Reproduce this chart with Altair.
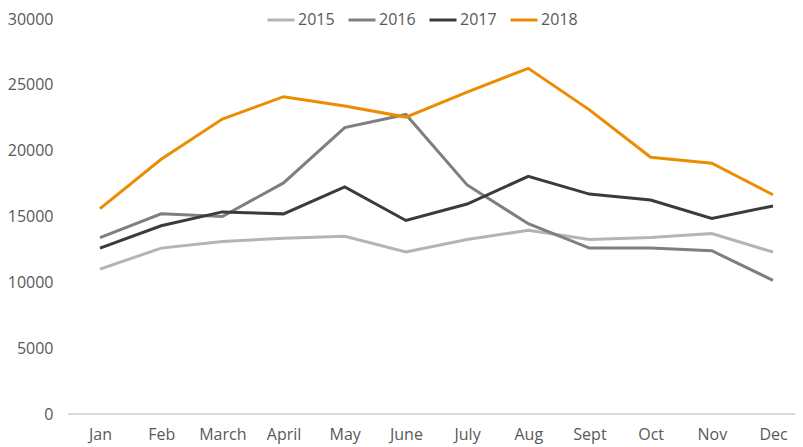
import altair as alt
import pandas as pd

months = ["Jan", "Feb", "March", "April", "May", "June", "July", "Aug", "Sept", "Oct", "Nov", "Dec"]
years = ["2015", "2016", "2017", "2018"]
v2015 = [11000, 12600, 13100, 13350, 13500, 12300, 13250, 13950, 13250, 13400, 13700, 12300]
v2016 = [13400, 15200, 15000, 17550, 21750, 22750, 17400, 14450, 12600, 12600, 12400, 10150]
v2017 = [12600, 14300, 15350, 15200, 17250, 14700, 15950, 18050, 16700, 16250, 14850, 15800]
v2018 = [15600, 19350, 22400, 24100, 23400, 22550, 24450, 26250, 23100, 19500, 19050, 16650]
colors = ["#b4b4b4", "#7f7f7f", "#3b3b3b", "#ec8c00"]

rows = []
for y, vals in zip(years, [v2015, v2016, v2017, v2018]):
    for m, v in zip(months, vals):
        rows.append({"Month": m, "Year": y, "Value": v})
df = pd.DataFrame(rows)

W, H = 727, 395
font = "Open Sans"

baseline = alt.Chart(df).mark_rule(color="#d9d9d9", strokeWidth=1.5).encode(
    x=alt.value(0), x2=alt.value(W), y=alt.value(H)
)

lines = alt.Chart(df).mark_line(strokeWidth=3).encode(
    x=alt.X("Month:N", sort=months, scale=alt.Scale(type="point", range=[32, 705], padding=0),
            axis=alt.Axis(title=None, labelAngle=0, ticks=False, domain=False,
                          labelPadding=12, labelFontSize=16,
                          labelColor="#595959", labelFont=font, grid=False)),
    y=alt.Y("Value:Q", scale=alt.Scale(domain=[0, 30000]),
            axis=alt.Axis(title=None, values=[0, 5000, 10000, 15000, 20000, 25000, 30000],
                          format="d", ticks=False, domain=False, grid=False,
                          labelPadding=15, labelFontSize=16, labelColor="#595959",
                          labelFont=font)),
    color=alt.Color("Year:N", scale=alt.Scale(domain=years, range=colors),
                    legend=alt.Legend(title=None, orient="none", legendX=198, legendY=-14,
                                      direction="horizontal", symbolType="stroke",
                                      symbolSize=729, symbolStrokeWidth=3,
                                      labelFontSize=16, labelColor="#595959",
                                      labelFont=font, columnPadding=7, labelOffset=2)),
)

chart = alt.layer(baseline, lines).properties(
    width=W, height=H,
    autosize=alt.AutoSizeParams(type="none"),
    padding={"left": 60, "top": 11, "right": 0, "bottom": 33},
).configure_view(stroke=None)

chart.save("out.html", embed_options={"renderer": "svg", "actions": False})
